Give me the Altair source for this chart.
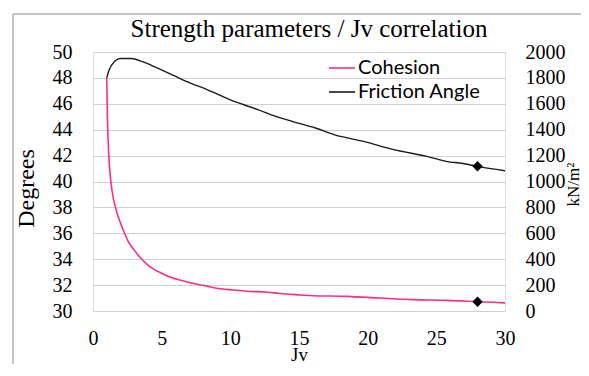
import altair as alt
import pandas as pd

# ---- data ----
jv_friction = [1.0, 1.15, 1.6, 2.0, 2.8, 3.6, 4.7, 5.9, 7.1, 8.3, 10.0, 12.0, 13.3,
               14.5, 16.2, 17.6, 19.7, 21.9, 24.3, 26.0, 26.7, 28.0, 30.0]
friction = [48.0, 48.55, 49.3, 49.5, 49.5, 49.25, 48.75, 48.17, 47.6, 47.1, 46.3,
            45.55, 45.03, 44.64, 44.13, 43.6, 43.1, 42.46, 41.94, 41.5, 41.43, 41.17, 40.83]

jv_cohesion = [1.0, 1.05, 1.15, 1.3, 1.5, 1.8, 2.0, 2.3, 2.6, 3.0, 3.5, 4.0, 4.5, 5.0,
               5.6, 6.6, 7.1, 8.3, 8.8, 10.2, 11.2, 12.7, 13.6, 15.1, 16.0, 18.5,
               20.9, 23.3, 25.8, 28.0, 30.0]
cohesion = [1800, 1500, 1200, 1000, 860, 740, 680, 600, 530, 470, 405, 355, 318, 292,
            262, 232, 218, 192, 180, 162, 153, 145, 135, 124, 118, 113,
            100, 88, 82, 72, 63]

marker_jv = [28.0]
marker_friction = [41.17]
marker_cohesion = [72]

series_names = ["Cohesion", "Friction Angle"]
series_colors = ["#ff2d87", "#1a1a1a"]

x_ticks = [0, 5, 10, 15, 20, 25, 30]
deg_ticks = [30, 32, 34, 36, 38, 40, 42, 44, 46, 48, 50]
kn_ticks = [0, 200, 400, 600, 800, 1000, 1200, 1400, 1600, 1800, 2000]

fric_df = pd.DataFrame({"Jv": jv_friction, "value": friction, "series": "Friction Angle"})
coh_df = pd.DataFrame({"Jv": jv_cohesion, "value": cohesion, "series": "Cohesion"})
fric_mk = pd.DataFrame({"Jv": marker_jv, "value": marker_friction})
coh_mk = pd.DataFrame({"Jv": marker_jv, "value": marker_cohesion})

SERIF = "Liberation Serif"
FRAME = "#8a8a8a"

x_enc = alt.X(
    "Jv:Q",
    scale=alt.Scale(domain=[0, 30], nice=False),
    axis=alt.Axis(values=x_ticks, title="Jv", grid=False, labelPadding=17,
                  titleFontSize=19, titleBaseline="alphabetic", titleY=49),
)

color_enc = alt.Color(
    "series:N",
    scale=alt.Scale(domain=series_names, range=series_colors),
    legend=alt.Legend(orient="none", legendX=235, legendY=2, title=None,
                      symbolType="stroke", symbolSize=676, symbolStrokeWidth=1.6,
                      labelFont="Lato", labelFontSize=20, labelColor="black",
                      labelOffset=2, rowPadding=-1, padding=0),
)

y_left = alt.Y(
    "value:Q",
    scale=alt.Scale(domain=[30, 50], nice=False, zero=False),
    axis=alt.Axis(orient="left", values=deg_ticks, title="Degrees", grid=True,
                  gridColor="#d0d0d0", gridWidth=1.2, labelPadding=21,
                  titlePadding=14, titleY=136),
)

y_right = alt.Y(
    "value:Q",
    scale=alt.Scale(domain=[0, 2000], nice=False),
    axis=alt.Axis(orient="right", values=kn_ticks, title="kN/m²", grid=False,
                  format="d", labelPadding=20, titlePadding=0, titleAngle=270,
                  titleFontSize=17, titleBaseline="top", titleY=132),
)

frame_df = pd.DataFrame({"a": [0]})
frame_top = alt.Chart(frame_df).mark_rule(color=FRAME, strokeWidth=1).encode(
    x=alt.value(-80), x2=alt.value(620), y=alt.value(-38))
frame_left = alt.Chart(frame_df).mark_rule(color=FRAME, strokeWidth=1).encode(
    x=alt.value(-80), y=alt.value(-38), y2=alt.value(420))

fric_line = alt.Chart(fric_df).mark_line(interpolate="monotone", strokeWidth=1.4).encode(
    x=x_enc, y=y_left, color=color_enc)
fric_pt = alt.Chart(fric_mk).mark_point(shape="diamond", filled=True, size=110,
                                        color="black", opacity=1).encode(x=x_enc, y=y_left)

coh_line = alt.Chart(coh_df).mark_line(interpolate="monotone", strokeWidth=1.6).encode(
    x=x_enc, y=y_right, color=color_enc)
coh_pt = alt.Chart(coh_mk).mark_point(shape="diamond", filled=True, size=110,
                                      color="black", opacity=1).encode(x=x_enc, y=y_right)

left = alt.layer(fric_line, fric_pt)
right = alt.layer(coh_line, coh_pt)

chart = alt.layer(frame_top, frame_left, left, right).resolve_scale(y="independent").properties(
    width=412,
    height=259,
    padding={"left": 85, "top": 44, "right": 76, "bottom": 53},
    autosize=alt.AutoSizeParams(type="none"),
    title=alt.TitleParams("Strength parameters / Jv correlation", font=SERIF,
                          fontSize=25, fontWeight="normal", color="black",
                          anchor="middle", dx=10, offset=-48, baseline="alphabetic"),
).configure_view(stroke="#b8b8b8", strokeWidth=1).configure(
    background="white"
).configure_axis(
    labelFont=SERIF, labelFontSize=20, labelColor="black", labelFlush=False,
    titleFont=SERIF, titleFontSize=24, titleFontWeight="normal", titleColor="black",
    domain=False, ticks=False, tickSize=0,
)

chart.save("out.html", embed_options={"renderer": "svg", "actions": False})
